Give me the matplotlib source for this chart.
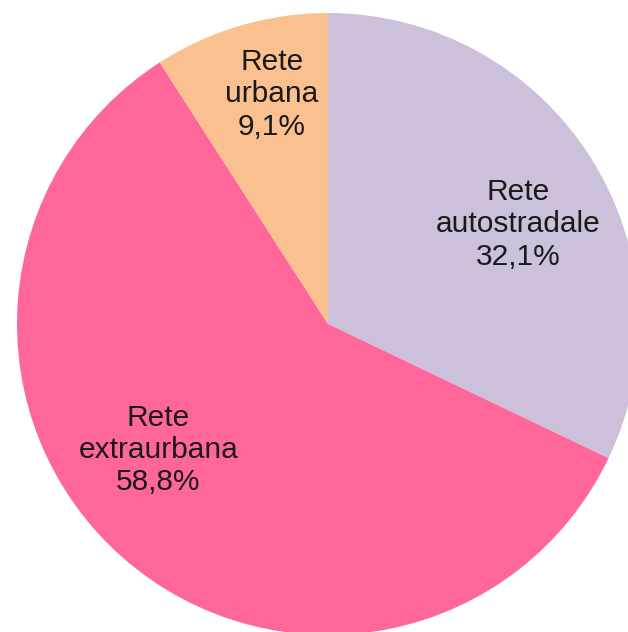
import matplotlib
matplotlib.use("Agg")
import matplotlib.pyplot as plt
import numpy as np

# data
labels = ["Rete\nautostradale", "Rete\nextraurbana", "Rete\nurbana"]
shares = [32.1, 58.8, 9.1]
colors = ["#CCC0DA", "#FF6699", "#FAC090"]

# label placement (radius fraction, angle offset in degrees from wedge middle)
label_pos = [(0.69, -4.5), (0.68, -12.0), (0.76, -2.7)]

fig = plt.figure(figsize=(6.28, 6.32), dpi=100)
ax = fig.add_axes([0, 0, 1, 1])

# pixel-like coords, y measured from the bottom
cx, cy, r = 328, 632 - 324, 311
wedges, _ = ax.pie(shares, colors=colors, startangle=90, counterclock=False,
                   center=(cx, cy), radius=r, frame=True,
                   wedgeprops=dict(linewidth=0))
ax.set_xlim(0, 628)
ax.set_ylim(0, 632)
ax.axis("off")

for w, lab, val, (rf, off) in zip(wedges, labels, shares, label_pos):
    mid = np.deg2rad((w.theta1 + w.theta2) / 2 + off)
    x = cx + rf * r * np.cos(mid)
    y = cy + rf * r * np.sin(mid)
    txt = lab + "\n" + ("%.1f%%" % val).replace(".", ",")
    ax.text(x, y, txt, ha="center", va="center", fontsize=21.5,
            family=["Liberation Sans", "DejaVu Sans"], color="#1a1a1a",
            linespacing=1.2)

fig.savefig("out.png", dpi=100, facecolor="white")
